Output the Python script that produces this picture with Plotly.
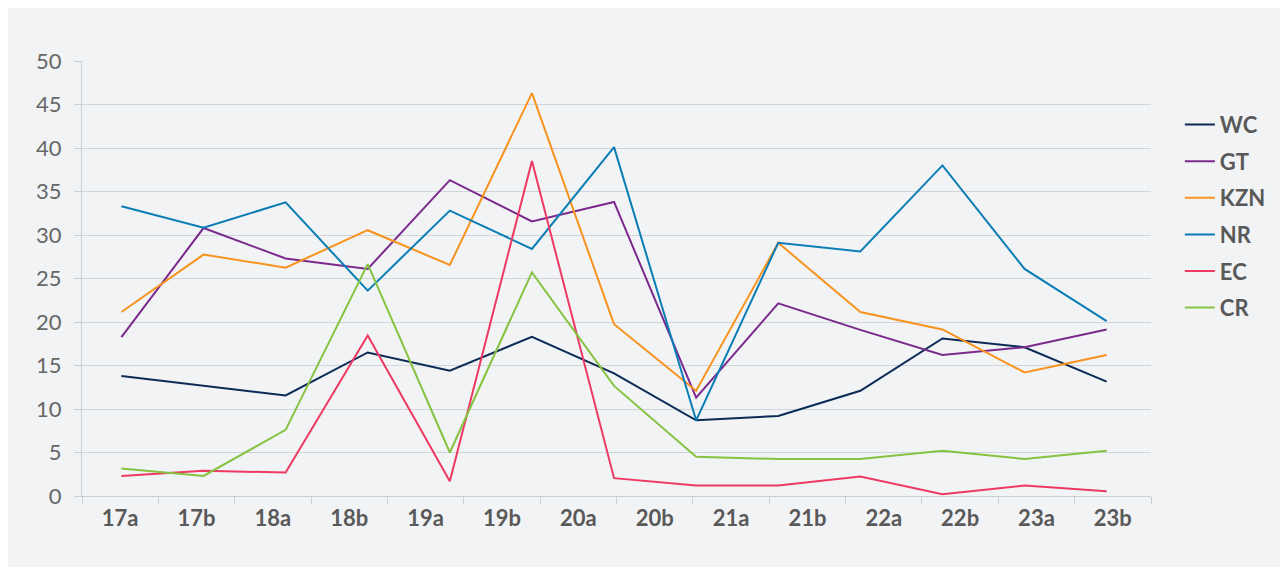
import plotly.graph_objects as go

periods = ["17a", "17b", "18a", "18b", "19a", "19b", "20a", "20b",
           "21a", "21b", "22a", "22b", "23a", "23b"]

WC = [13.8, 12.7, 11.55, 16.5, 14.4, 18.3, 14.1, 8.7, 9.2, 12.1, 18.1, 17.1, 13.15]
GT = [18.25, 30.8, 27.3, 26.1, 36.3, 31.55, 33.8, 11.3, 22.15, 19.1, 16.2, 17.1, 19.15]
KZN = [21.15, 27.75, 26.25, 30.55, 26.55, 46.3, 19.75, 12.1, 29.1, 21.15, 19.15, 14.2, 16.2]
NR = [33.3, 30.85, 33.75, 23.6, 32.8, 28.4, 40.1, 8.7, 29.1, 28.1, 38.0, 26.1, 20.1]
EC = [2.3, 2.9, 2.7, 18.45, 1.7, 38.5, 2.05, 1.2, 1.2, 2.25, 0.2, 1.2, 0.55]
CR = [3.15, 2.3, 7.6, 26.65, 5.0, 25.7, 12.65, 4.5, 4.25, 4.25, 5.2, 4.25, 5.2]

series = [
    ("WC", WC, "#0b2a55"),
    ("GT", GT, "#7b2a8c"),
    ("KZN", KZN, "#f7931e"),
    ("NR", NR, "#0a7db5"),
    ("EC", EC, "#ee3963"),
    ("CR", CR, "#85c341"),
]

bg = "#f1f3f5"
grid = "#cfd5da"
axis_c = "#c8d0d6"

fig = go.Figure()

# invisible trace to establish the category axis
fig.add_trace(go.Scatter(x=periods, y=[None] * len(periods), xaxis="x", yaxis="y",
                         mode="lines", showlegend=False, hoverinfo="skip"))

for i, (name, vals, col) in enumerate(series):
    fig.add_trace(go.Scatter(
        x=list(range(len(vals))), y=vals, name=name, mode="lines",
        line=dict(color=col, width=2), xaxis="x2", yaxis="y",
        legendgroup=name,
    ))

fig.update_layout(
    width=1278, height=559,
    paper_bgcolor=bg, plot_bgcolor=bg,
    margin=dict(l=74, r=135, t=53, b=71),
    font=dict(family="Lato", color="#5a5a5a"),
    xaxis=dict(
        type="category", categoryorder="array", categoryarray=periods,
        range=[-0.5, 13.5], showgrid=False, showline=True, linecolor=axis_c, linewidth=1,
        ticks="outside", tickson="boundaries", ticklen=7, tickcolor=axis_c,
        ticklabelstandoff=3,
        tickfont=dict(size=22, color="#595959", family="Lato", weight="bold"),
        zeroline=False, fixedrange=True,
    ),
    xaxis2=dict(
        overlaying="x", range=[-0.48, 12.54], visible=False, showgrid=False, zeroline=False,
    ),
    yaxis=dict(
        range=[0, 50], dtick=5, showgrid=True, gridcolor=grid, gridwidth=1,
        showline=True, linecolor=axis_c, linewidth=1,
        ticks="outside", ticklen=7, tickcolor=axis_c, ticklabelstandoff=8,
        tickfont=dict(size=22, color="#676767", family="Lato", weight=400),
        zeroline=False,
    ),
    legend=dict(
        x=1.027, xanchor="left", y=0.643, yanchor="middle",
        font=dict(size=22, color="#595959", family="Lato", weight="bold"),
        bgcolor="rgba(0,0,0,0)", tracegroupgap=5, traceorder="grouped",
    ),
    showlegend=True,
)

fig.write_html("out.html")
